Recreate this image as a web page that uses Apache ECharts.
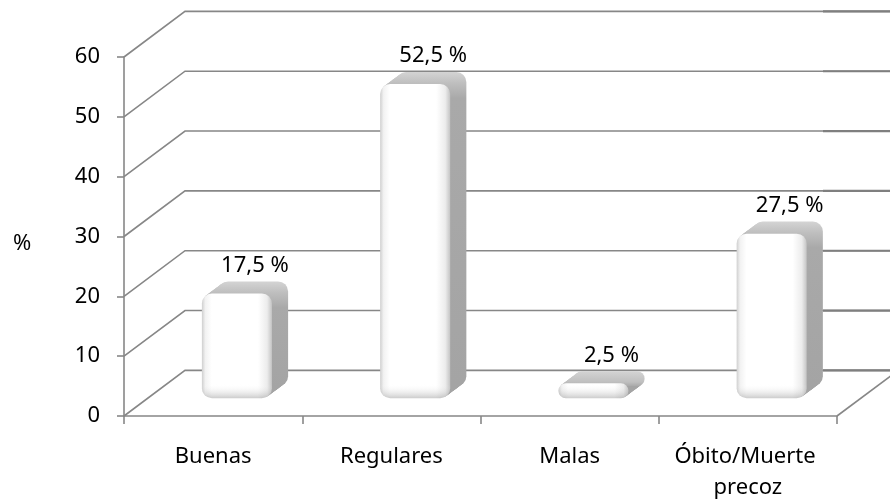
<!DOCTYPE html>
<html>
<head>
<meta charset="utf-8">
<title>Evolución</title>
<script src="https://cdn.jsdelivr.net/npm/echarts@6/dist/echarts.min.js"></script>
<style>
  html, body { margin: 0; padding: 0; background: #ffffff; }
  #chart { width: 890px; height: 504px; }
</style>
</head>
<body>
<div id="chart"></div>
<script>
// Outcome categories and their share of cases (%)
const categories = ['Buenas', 'Regulares', 'Malas', 'Óbito/Muerte precoz'];
const percentages = [17.5, 52.5, 2.5, 27.5];
const yTicks = [0, 10, 20, 30, 40, 50, 60];
const axisTitle = '%';

const FONT = '"Noto Sans", "Open Sans", sans-serif';
const FONT_SIZE = 22;
const LINE = '#878787';
// Pseudo-3D box: how far the back wall sits behind the front plane (px)
const WALL = [61, -45.6];
const BAR_OFFSET = 0.39;   // bars stand this far into the box
const BAR_DEPTH = 0.265;   // thickness of each bar as a fraction of the box depth
const BAR_WIDTH = 0.393;   // front-face width as a fraction of a category band

function fmtPct(v) {
  return String(v).replace('.', ',') + ' %';
}

// Back-wall gridlines (diagonal from the front axis, then across the wall) and the floor edge
function renderWall(params, api) {
  const cs = params.coordSys;
  const v = api.value(1);
  const y = api.coord([0, v])[1];
  const x0 = cs.x;
  const x1 = cs.x + cs.width;
  const bx = WALL[0], by = WALL[1];
  const children = [
    {
      type: 'polyline',
      shape: { points: [[x0, y], [x0 + bx, y + by], [x1 + bx, y + by]] },
      style: { stroke: LINE, lineWidth: 1.6, fill: null }
    },
    {
      type: 'line',
      shape: { x1: x1 - 14, y1: y + by, x2: x1 + bx, y2: y + by },
      style: { stroke: '#7f7f7f', lineWidth: 2.2 }
    }
  ];
  if (v === yTicks[0]) {
    children.push({
      type: 'line',
      shape: { x1: x1, y1: y, x2: x1 + bx, y2: y + by },
      style: { stroke: LINE, lineWidth: 1.6 }
    });
  }
  return { type: 'group', silent: true, children: children };
}

// Rounded, extruded bar with its value label
function renderBar(params, api) {
  const i = api.value(0);
  const v = api.value(1);
  const base = api.coord([i, 0]);
  const top = api.coord([i, v]);
  const band = api.size([1, 0])[0];
  const w = band * BAR_WIDTH;
  const sx = WALL[0] * BAR_OFFSET, sy = WALL[1] * BAR_OFFSET;
  const dx = WALL[0] * BAR_DEPTH, dy = WALL[1] * BAR_DEPTH;
  const x0 = base[0] + sx - w / 2;
  const yb = base[1] + sy;
  const yt = top[1] + sy;
  const h = yb - yt;
  const r = Math.min(10, h / 2);

  const children = [];
  // extrusion: stacked copies of the face, back to front
  const span = (yb + dy) - (yt + dy);
  const f = (px) => Math.max(0, Math.min(1, px / span));
  const depthFill = {
    type: 'linear', global: true,
    x: 0, y: yt + dy, x2: 0, y2: yb + dy,
    colorStops: [
      { offset: 0, color: '#d4d4d4' },
      { offset: f(-dy * 0.9), color: '#bfbfbf' },
      { offset: f(-dy + 14), color: '#a9a9a9' },
      { offset: 1, color: '#a4a4a4' }
    ]
  };
  const steps = 14;
  for (let k = steps; k >= 1; k--) {
    const t = k / steps;
    children.push({
      type: 'rect',
      shape: { x: x0 + dx * t, y: yt + dy * t, width: w, height: h, r: r },
      style: { fill: depthFill }
    });
  }
  // front face
  children.push({
    type: 'rect',
    shape: { x: x0, y: yt, width: w, height: h, r: r },
    style: {
      fill: {
        type: 'linear', x: 0, y: 0, x2: 1, y2: 0,
        colorStops: [
          { offset: 0, color: '#cfcfcf' },
          { offset: 0.05, color: '#f2f2f2' },
          { offset: 0.14, color: '#ffffff' },
          { offset: 0.8, color: '#ffffff' },
          { offset: 0.93, color: '#ececec' },
          { offset: 1, color: '#c4c4c4' }
        ]
      }
    }
  });
  // soft shading along the bottom edge
  const shadeStart = Math.max(0, 1 - 14 / h);
  children.push({
    type: 'rect',
    shape: { x: x0, y: yt, width: w, height: h, r: r },
    style: {
      fill: {
        type: 'linear', x: 0, y: 0, x2: 0, y2: 1,
        colorStops: [
          { offset: 0, color: 'rgba(255,255,255,0)' },
          { offset: shadeStart, color: 'rgba(255,255,255,0)' },
          { offset: 1, color: 'rgba(120,120,120,0.38)' }
        ]
      }
    }
  });
  // value label
  children.push({
    type: 'text',
    style: {
      x: x0 + w / 2 + 18,
      y: yt - 28,
      text: fmtPct(v),
      align: 'center',
      verticalAlign: 'middle',
      fill: '#000000',
      font: FONT_SIZE + 'px ' + FONT
    }
  });
  return { type: 'group', children: children };
}

const chart = echarts.init(document.getElementById('chart'), null, { renderer: 'canvas' });

chart.setOption({
  backgroundColor: '#ffffff',
  animation: false,
  textStyle: { fontFamily: FONT },
  grid: { left: 124, right: 53, top: 57, bottom: 88, containLabel: false },
  xAxis: {
    type: 'category',
    data: categories,
    boundaryGap: true,
    axisLine: { show: true, lineStyle: { color: LINE, width: 1.6 } },
    axisTick: { show: true, length: 8, alignWithLabel: false, lineStyle: { color: LINE, width: 1.6 } },
    axisLabel: {
      interval: 0,
      margin: 25,
      fontSize: FONT_SIZE,
      lineHeight: 31,
      color: '#000000',
      fontFamily: FONT,
      width: 172,
      overflow: 'break'
    },
    splitLine: { show: false }
  },
  yAxis: {
    type: 'value',
    min: yTicks[0],
    max: yTicks[yTicks.length - 1],
    interval: yTicks[1] - yTicks[0],
    axisLine: { show: true, lineStyle: { color: LINE, width: 1.6 } },
    axisTick: { show: true, length: 7, lineStyle: { color: LINE, width: 1.6 } },
    axisLabel: { margin: 24, fontSize: FONT_SIZE, color: '#000000', fontFamily: FONT },
    splitLine: { show: false }
  },
  graphic: [{
    type: 'text',
    left: 13,
    top: 233,
    style: { text: axisTitle, fill: '#000000', font: FONT_SIZE + 'px ' + FONT }
  }],
  series: [
    {
      name: 'wall',
      type: 'custom',
      z: 1,
      silent: true,
      clip: false,
      renderItem: renderWall,
      data: yTicks.map(v => [0, v])
    },
    {
      name: 'Evolución',
      type: 'custom',
      z: 3,
      clip: false,
      renderItem: renderBar,
      data: percentages.map((v, i) => [i, v])
    }
  ]
});
</script>
</body>
</html>
